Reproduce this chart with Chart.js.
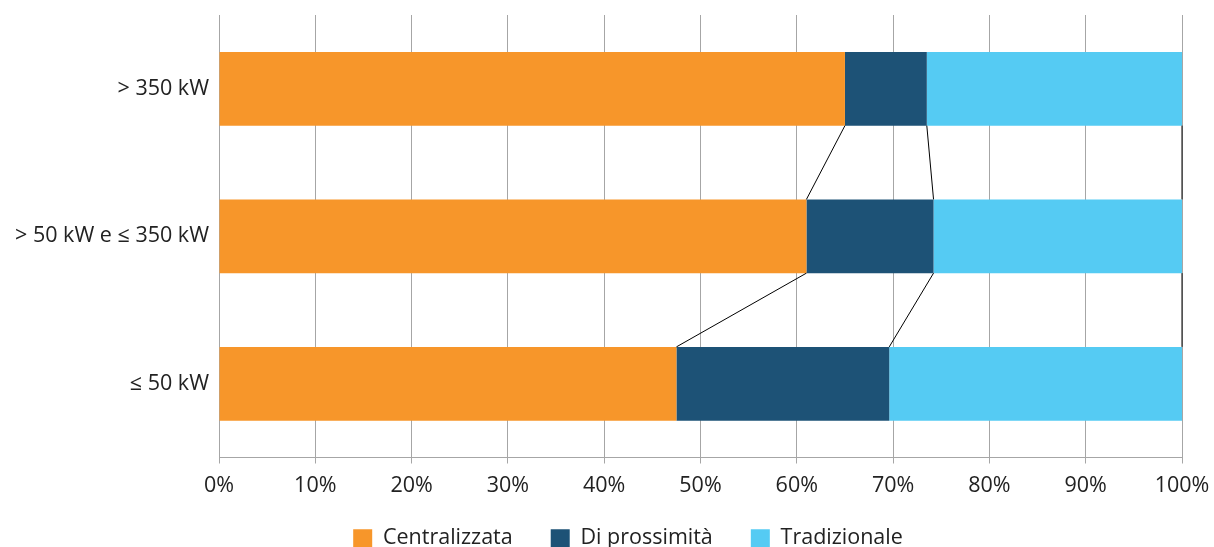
<!DOCTYPE html>
<html><head><meta charset="utf-8">
<script src="https://cdn.jsdelivr.net/npm/chart.js@4.4.1/dist/chart.umd.min.js"></script>
<style>html,body{margin:0;padding:0;background:#fff}#wrap{width:1214px;height:547px;position:relative}</style>
</head><body><div id="wrap"><canvas id="c"></canvas></div>
<script>
const categories = ['> 350 kW', '> 50 kW e ≤ 350 kW', '≤ 50 kW'];
const centralizzata = [65.0, 61.0, 47.5];
const prossimita = [8.5, 13.2, 22.1];
const tradizionale = [26.5, 25.8, 30.4];
const seriesNames = ['Centralizzata', 'Di prossimità', 'Tradizionale'];
const xTicks = [0,10,20,30,40,50,60,70,80,90,100];

const FONT = '"Open Sans", sans-serif';
const FS = 21.5;

const seriesLines = {
  id: 'seriesLines',
  afterDatasetsDraw(chart) {
    const ctx = chart.ctx;
    const n = chart.data.labels.length;
    ctx.save();
    ctx.strokeStyle = '#000';
    ctx.lineWidth = 1;
    for (let d = 0; d < chart.data.datasets.length; d++) {
      const meta = chart.getDatasetMeta(d);
      for (let i = 0; i < n - 1; i++) {
        const a = meta.data[i].getProps(['x','y','height'], true);
        const b = meta.data[i+1].getProps(['x','y','height'], true);
        ctx.beginPath();
        ctx.moveTo(a.x, a.y + a.height/2);
        ctx.lineTo(b.x, b.y - b.height/2);
        ctx.stroke();
      }
    }
    ctx.restore();
  }
};

const layoutTweak = {
  id: 'layoutTweak',
  afterLayout(chart) {
    if (chart.legend) { chart.legend.left += 37; chart.legend.right += 37; }
    if (chart.scales.x) { chart.scales.x.bottom += 30; }
  }
};

new Chart(document.getElementById('c'), {
  type: 'bar',
  data: {
    labels: categories,
    datasets: [
      {label: seriesNames[0], data: centralizzata, backgroundColor: '#F7962A'},
      {label: seriesNames[1], data: prossimita, backgroundColor: '#1D5276'},
      {label: seriesNames[2], data: tradizionale, backgroundColor: '#55CBF3'}
    ]
  },
  options: {
    indexAxis: 'y',
    responsive: true,
    maintainAspectRatio: false,
    animation: false,
    barPercentage: 0.5,
    categoryPercentage: 1.0,
    layout: {padding: {top: 15, right: 32, left: 0, bottom: -12}},
    plugins: {
      tooltip: {enabled: false},
      legend: {
        position: 'bottom',
        labels: {
          boxWidth: 19, boxHeight: 18, padding: 38,
          color: '#222',
          font: {family: FONT, size: FS}
        }
      }
    },
    scales: {
      x: {
        stacked: true,
        min: 0, max: 100,
        afterBuildTicks(scale){ scale.ticks = xTicks.map(v => ({value: v})); },
        afterFit(scale){ scale.height = 32; scale.paddingRight = 0; scale.paddingLeft = 0; },
        ticks: {
          callback: v => v + '%',
          color: '#222',
          padding: 9,
          maxRotation: 0,
          font: {family: FONT, size: FS}
        },
        grid: {color: '#A6A6A6', lineWidth: 1, tickLength: 6, drawTicks: true},
        border: {color: '#A6A6A6'}
      },
      y: {
        stacked: true,
        afterFit(scale){ scale.width = 219; scale.paddingTop = 0; scale.paddingBottom = 0; },
        ticks: {
          color: '#222',
          padding: 10,
          font: {family: FONT, size: FS}
        },
        grid: {display: false, drawTicks: false},
        border: {display: true, color: '#A6A6A6'}
      }
    }
  },
  plugins: [seriesLines, layoutTweak]
});
</script>
</body></html>
